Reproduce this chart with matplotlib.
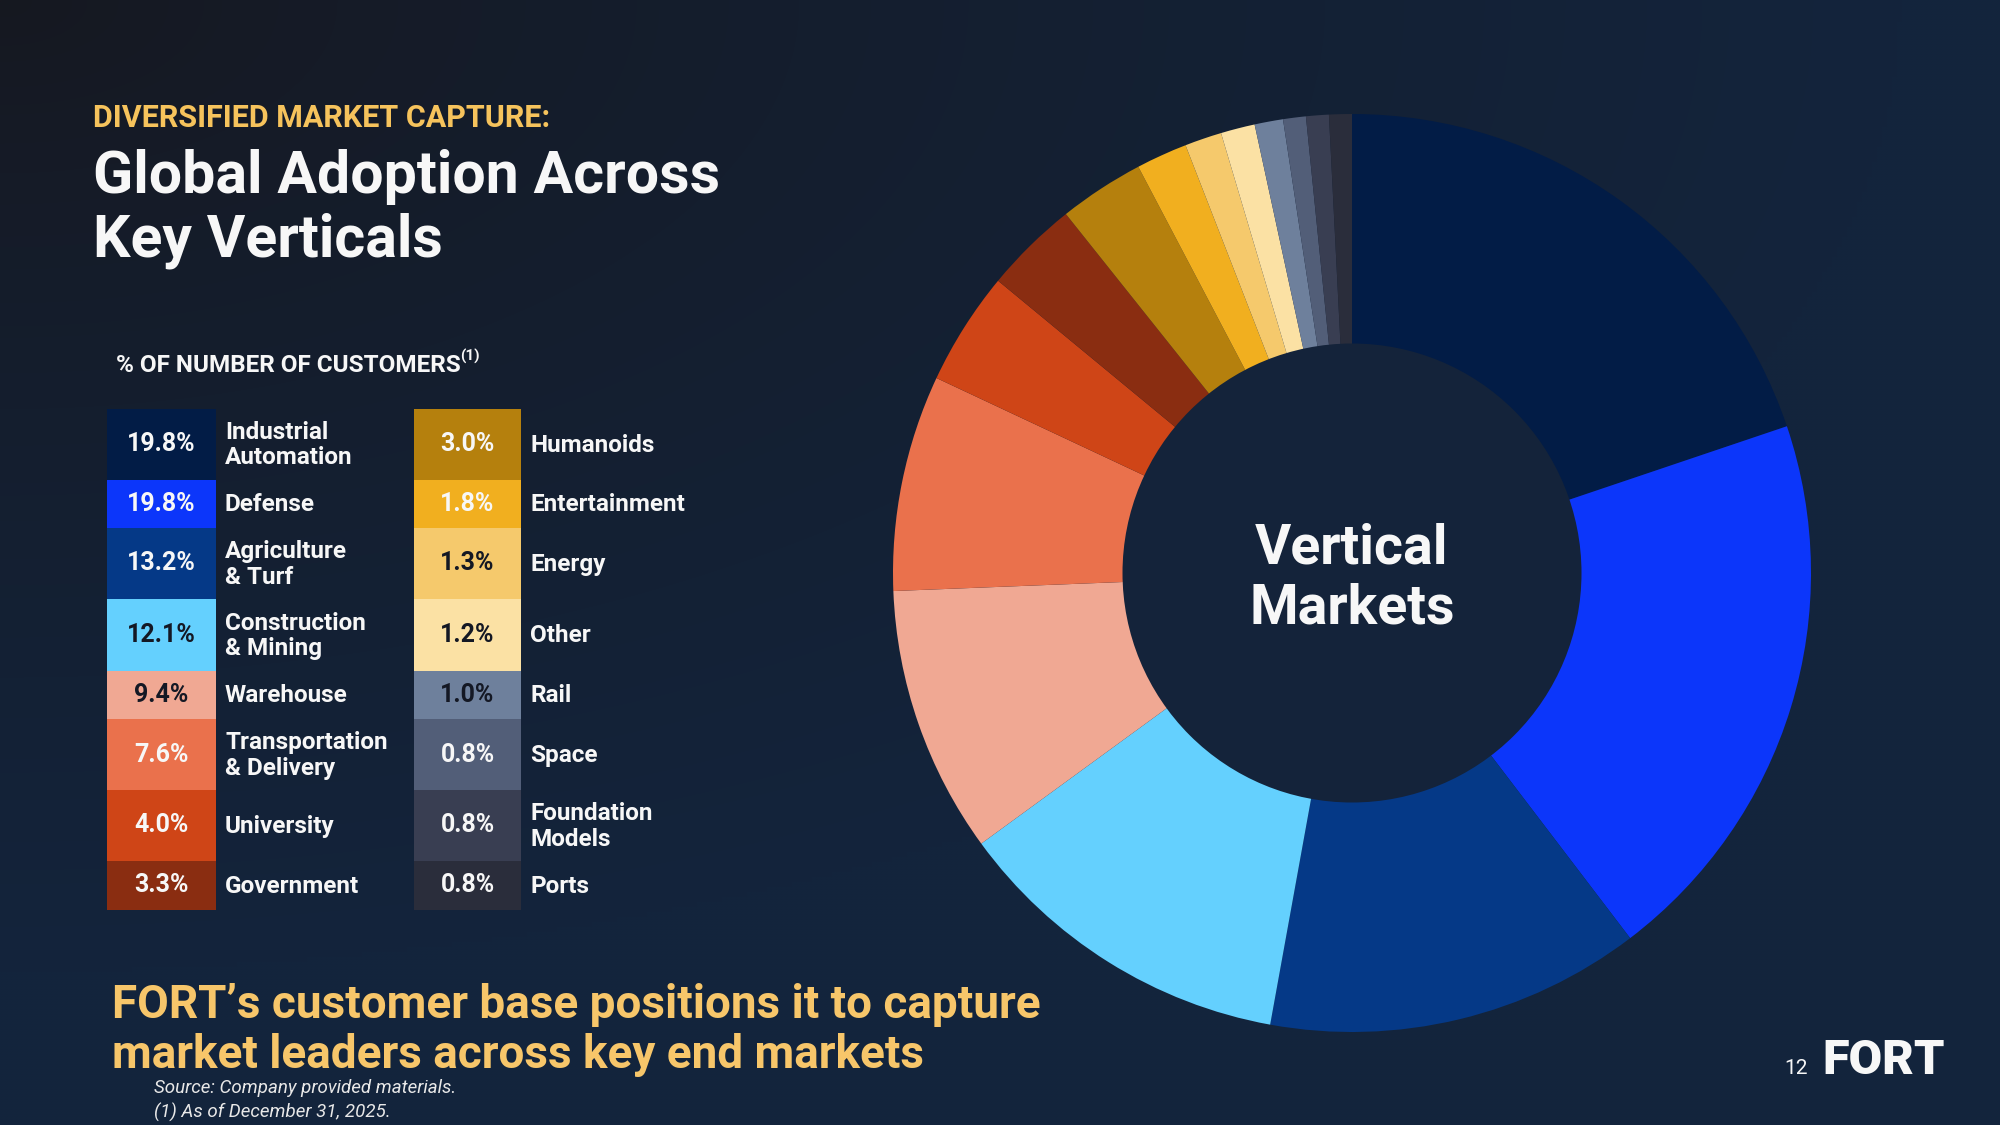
import matplotlib
matplotlib.use('Agg')
import matplotlib.pyplot as plt
from matplotlib.patches import Rectangle, Circle
import numpy as np

plt.rcParams['font.family'] = ['Roboto', 'DejaVu Sans']

# legend columns, top to bottom (pie goes left column then right column, clockwise from 12 o'clock)
left_names = ['Industrial\nAutomation', 'Defense', 'Agriculture\n& Turf', 'Construction\n& Mining',
              'Warehouse', 'Transportation\n& Delivery', 'University', 'Government']
left_pct = [19.8, 19.8, 13.2, 12.1, 9.4, 7.6, 4.0, 3.3]
left_colors = ['#021c46', '#0c36fa', '#053987', '#64d0fe', '#f0a893', '#ea714c', '#cf4517', '#8a2d11']

right_names = ['Humanoids', 'Entertainment', 'Energy', 'Other', 'Rail', 'Space',
               'Foundation\nModels', 'Ports']
right_pct = [3.0, 1.8, 1.3, 1.2, 1.0, 0.8, 0.8, 0.8]
right_colors = ['#b5800d', '#f1af1f', '#f5c96c', '#fbe1a4', '#6e809c', '#525e78', '#393e52', '#2a2d3b']

# which cells get dark numbers
light_cells = ['#64d0fe', '#f0a893', '#f5c96c', '#fbe1a4', '#6e809c']

row_h = [70.5, 48.5, 71, 72, 48, 71, 71, 49]

W, H = 2000, 1125
fig = plt.figure(figsize=(20, 11.25), dpi=100)

# background
bg = fig.add_axes([0, 0, 1, 1])
xx, yy = np.meshgrid(np.linspace(0, 1, 400), np.linspace(0, 1, 225))
t = np.clip(np.sqrt((xx * 1.0) ** 2 + (yy * 1.1) ** 2) / 0.95, 0, 1) ** 0.8
c0 = np.array([0x16, 0x18, 0x20]) / 255
c1 = np.array([0x13, 0x24, 0x3c]) / 255
img = c0[None, None, :] * (1 - t[..., None]) + c1[None, None, :] * t[..., None]
bg.imshow(img, extent=[0, W, H, 0], aspect='auto', interpolation='bilinear')
bg.set_xlim(0, W)
bg.set_ylim(H, 0)
bg.axis('off')

gold = '#f6c35c'
white = '#f7f7f7'

bg.text(93, 118, 'DIVERSIFIED MARKET CAPTURE:', color=gold, fontsize=22, fontweight='bold',
        va='center', ha='left')
bg.text(93, 177, 'Global Adoption Across', color=white, fontsize=42.5, fontweight='bold',
        va='center', ha='left')
bg.text(93, 241, 'Key Verticals', color=white, fontsize=42.5, fontweight='bold',
        va='center', ha='left')

hdr = bg.text(116, 365, '% OF NUMBER OF CUSTOMERS', color=white, fontsize=17.5, fontweight='bold',
              va='center', ha='left')
fig.canvas.draw()
r = fig.canvas.get_renderer()
ext = hdr.get_window_extent(renderer=r)
bg.text(116 + ext.width - 1, 356, '(1)', color=white, fontsize=11, fontweight='bold',
        va='center', ha='left')


def draw_column(x0, x1, names, pcts, colors):
    y = 409
    for name, p, c, h in zip(names, pcts, colors, row_h):
        bg.add_patch(Rectangle((x0, y), x1 - x0, h, facecolor=c, edgecolor='none'))
        tc = '#141824' if c in light_cells else white
        bg.text((x0 + x1) / 2, y + h / 2, f'{p:.1f}%', color=tc, fontsize=18, fontweight='bold',
                ha='center', va='center')
        bg.text(x1 + 9, y + h / 2 + 1, name, color=white, fontsize=17.5, fontweight='bold',
                ha='left', va='center', linespacing=1.12)
        y += h


draw_column(107, 216, left_names, left_pct, left_colors)
draw_column(414, 521, right_names, right_pct, right_colors)

# donut
cx, cy, R = 1352, 573, 459
pax = fig.add_axes([(cx - R) / W, (H - cy - R) / H, 2 * R / W, 2 * R / H])
vals = left_pct + right_pct
cols = left_colors + right_colors
pax.pie(vals, colors=cols, startangle=90, counterclock=False, radius=1,
        wedgeprops=dict(linewidth=0))
pax.add_patch(Circle((0, 0), 0.5, facecolor='#14233a', edgecolor='none', zorder=5))
pax.text(0, -0.012, 'Vertical\nMarkets', color=white, fontsize=40, fontweight='bold',
         ha='center', va='center', linespacing=1.2, zorder=6)
pax.set_xlim(-1, 1)
pax.set_ylim(-1, 1)
pax.set_aspect('equal')
pax.axis('off')

bg.text(112, 1005, 'FORT\u2019s customer base positions it to capture', color='#f7c66a',
        fontsize=33, fontweight='bold', ha='left', va='center')
bg.text(112, 1055, 'market leaders across key end markets', color='#f7c66a',
        fontsize=33, fontweight='bold', ha='left', va='center')
bg.text(154, 1088, 'Source: Company provided materials.', color='#e8e8e8', fontsize=13.5,
        style='italic', ha='left', va='center')
bg.text(154, 1112, '(1) As of December 31, 2025.', color='#e8e8e8', fontsize=13.5,
        style='italic', ha='left', va='center')

bg.text(1808, 1068, '12', color=white, fontsize=15, ha='right', va='center')
bg.text(1822, 1061, 'FORT', color=white, fontsize=35, fontweight='heavy', ha='left', va='center')

fig.savefig('out.png', dpi=100, facecolor=fig.get_facecolor())
